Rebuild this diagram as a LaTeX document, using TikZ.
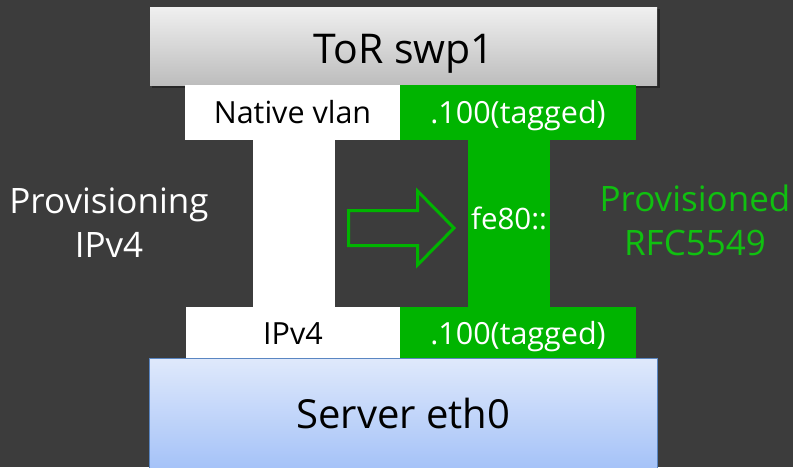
\documentclass[tikz,border=0pt]{standalone}
\usepackage{fontspec}
\setmainfont{Open Sans}
\definecolor{bg}{HTML}{3C3C3C}
\definecolor{grn}{HTML}{00B400}
\definecolor{grntext}{HTML}{10C010}
\definecolor{srvtop}{HTML}{DFE9FB}
\definecolor{srvbot}{HTML}{A3C1F8}
\definecolor{srvedge}{HTML}{5A86C2}
\tikzset{
  cell/.style={inner sep=0pt, outer sep=0pt, font=\fontsize{30.5}{34}\selectfont, text height=22pt, text depth=0pt},
  whitecell/.style={cell, fill=white, text=black},
  greencell/.style={cell, fill=grn, text=white},
  big/.style={inner sep=0pt, font=\fontsize{41}{44}\selectfont, text height=30pt, text depth=0pt},
  side/.style={align=center, font=\fontsize{35}{44}\selectfont, inner sep=0pt},
}
\begin{document}
\begin{tikzpicture}[x=1pt,y=-1pt]
\useasboundingbox (0,0) rectangle (793,467);
\fill[bg] (0,0) rectangle (793,467);
% vertical bars
\fill[white] (253,139) rectangle (335,307);
\fill[grn] (468,139) rectangle (550,307);
% top box
\fill[black,opacity=0.35] (152,9) rectangle (660,88);
\shade[top color=gray!12, bottom color=gray!52] (150,7) rectangle (657,85);
\node[big] (tor) at (404,48) {ToR swp1};
% top row
\node[whitecell, minimum width=215, minimum height=55] (nv) at (292.5,112) {Native vlan};
\node[greencell, minimum width=236, minimum height=55] (tt) at (518,112) {.100(tagged)};
% bottom row
\node[whitecell, minimum width=214, minimum height=52] (ip) at (293,333) {IPv4};
\node[greencell, minimum width=236, minimum height=52] (tb) at (518,333) {.100(tagged)};
% server box
\shade[top color=srvtop, bottom color=srvbot, draw=srvedge, line width=1pt] (149.5,358.5) rectangle (657.5,472);
\node[big, font=\fontsize{40}{44}\selectfont] (srv) at (403.5,413) {Server eth0};
% arrow
\draw[grn, line width=3pt, line join=miter]
  (348.5,210.5) -- (417.5,210.5) -- (417.5,191) -- (454,228) -- (417.5,265) -- (417.5,245.5) -- (348.5,245.5) -- cycle;
\node[text=white, inner sep=0pt, font=\fontsize{29.5}{32}\selectfont, text height=21pt, text depth=0pt] (fe) at (509,218.5) {fe80::};
% side labels
\node[side, text=white] (prov) at (109,223) {Provisioning\\IPv4};
\node[side, text=grntext] (provd) at (695,220) {Provisioned\\RFC5549};
\end{tikzpicture}
\end{document}
